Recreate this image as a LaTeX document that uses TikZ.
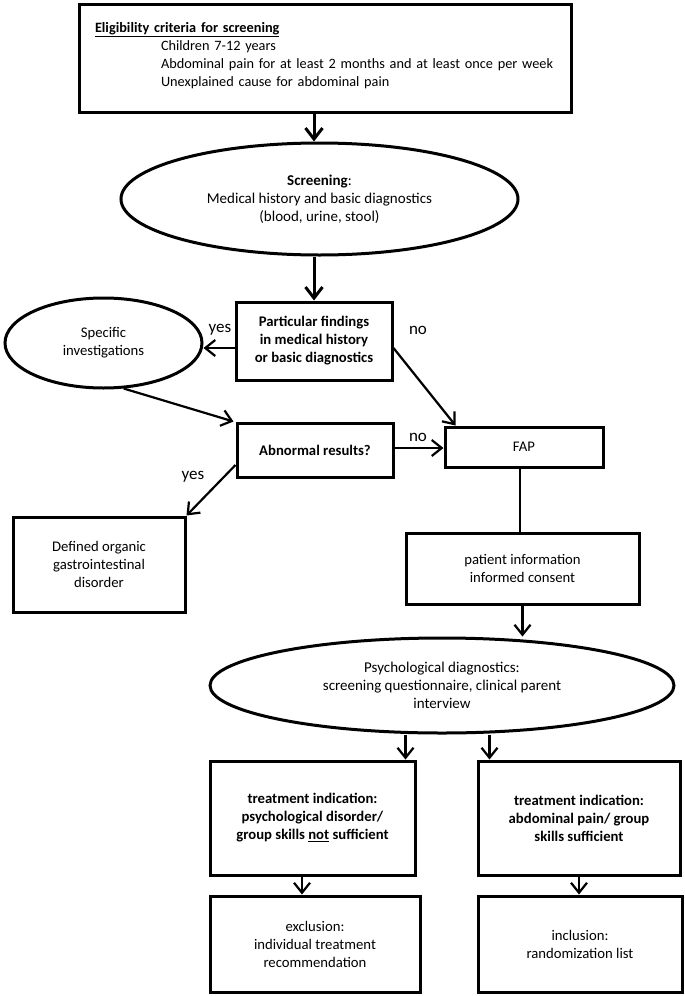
\documentclass[tikz,border=0pt]{standalone}
\usepackage{fontspec}
\setmainfont{Carlito}
\usetikzlibrary{shapes.geometric,arrows.meta,calc}
\begin{document}
\begin{tikzpicture}[x=1pt,y=-1pt,
  every node/.style={font=\fontsize{14.7pt}{18pt}\selectfont},
  box/.style={draw, line width=3pt, rectangle, align=center, inner sep=0pt},
  ell/.style={draw, line width=3pt, ellipse, align=center, inner sep=0pt},
  arr/.style={line width=2.2pt, -{Straight Barb[length=10pt,width=16pt]}},
  tharr/.style={line width=3pt, -{Straight Barb[length=11pt,width=17pt]}},
  plain/.style={line width=2.2pt},
  lbl/.style={font=\fontsize{17pt}{20pt}\selectfont, inner sep=0pt}]
\useasboundingbox (0,0) rectangle (685,996);

\node[box, align=left, text width=490pt, inner xsep=1pt, minimum height=108pt,
      font=\fontsize{14.3pt}{18pt}\selectfont] (elig) at (325,58)
 {\mbox{}\\[-12pt]
  \hspace*{15pt}\textbf{\underline{Eligibility criteria for screening}}\\
  \hspace*{81pt}Children 7-12 years\\
  \hspace*{81pt}Abdominal pain for at least 2 months and at least once per week\\
  \hspace*{81pt}Unexplained cause for abdominal pain};

\node[ell, minimum width=397pt, minimum height=112pt, font=\fontsize{15pt}{18pt}\selectfont] (scr) at (319.5,199)
 {\textbf{Screening}:\\ Medical history and basic diagnostics\\ (blood, urine, stool)};

\node[box, minimum width=156pt, minimum height=78pt] (part) at (314,341)
 {\textbf{Particular findings}\\ \textbf{in medical history}\\ \textbf{or basic diagnostics}};

\node[ell, minimum width=197pt, minimum height=90pt] (spec) at (103.5,343)
 {Specific\\ investigations};

\node[box, minimum width=156pt, minimum height=54pt] (abn) at (315,450)
 {\textbf{Abnormal results?}};

\node[box, minimum width=158pt, minimum height=40pt] (fap) at (524,447) {FAP};

\node[box, minimum width=172pt, minimum height=95pt] (def) at (99,564.5)
 {Defined organic\\ gastrointestinal\\ disorder};

\node[box, minimum width=233pt, minimum height=71pt] (pat) at (522.5,568.5)
 {patient information\\ informed consent};

\node[ell, minimum width=464pt, minimum height=95pt, font=\fontsize{15pt}{18pt}\selectfont] (psy) at (442,685.5)
 {Psychological diagnostics:\\ screening questionnaire, clinical parent\\ interview};

\node[box, minimum width=205pt, minimum height=114pt] (lt) at (312.5,818)
 {\textbf{treatment indication:}\\ \textbf{psychological disorder/}\\ \textbf{group skills \underline{not} sufficient}};

\node[box, minimum width=202pt, minimum height=114pt] (rt) at (579,818)
 {\textbf{treatment indication:}\\ \textbf{abdominal pain/ group}\\ \textbf{skills sufficient}};

\node[box, minimum width=210pt, minimum height=96pt] (exc) at (315,944)
 {exclusion:\\ individual treatment\\ recommendation};

\node[box, minimum width=204pt, minimum height=96pt] (inc) at (580,944)
 {inclusion:\\ randomization list};

% labels
\node[lbl] (yes1) at (220,330) {yes};
\node[lbl] (no1) at (418,330) {no};
\node[lbl] (no2) at (418,437) {no};
\node[lbl] (yes2) at (193,477) {yes};

% connectors
\draw[tharr] (elig.south -| part.north) -- (scr.north -| part.north);
\draw[tharr] (scr.south -| part.north) -- (part.north);
\draw[arr] ([yshift=-7pt]part.west) -- ([yshift=-7pt]part.west -| spec.east);
\draw[arr] (spec.-66) -- ([xshift=-2pt]abn.north west);
\draw[arr] ([yshift=-7pt]part.east) -- ([xshift=12pt]fap.north west);
\draw[arr] ([yshift=2pt]abn.east) -- ([yshift=2pt]abn.east -| fap.west);
\draw[arr] ([yshift=-15pt]abn.west) -- (def.north east);
\draw[plain] ([xshift=-4pt]fap.south) -- ([xshift=-4pt]fap.south |- pat.north);
\draw[arr] (pat.south) -- (pat.south |- psy.north);
\coordinate (l1) at ([xshift=-11pt]lt.north east);
\coordinate (r1) at ([xshift=13pt]rt.north west);
\draw[arr] (l1 |- psy.south) -- (l1);
\draw[arr] (r1 |- psy.south) -- (r1);
\coordinate (l2) at ([xshift=-10.5pt]lt.south);
\draw[arr] (l2) -- (l2 |- exc.north);
\draw[arr] (rt.south) -- (rt.south |- inc.north);
\end{tikzpicture}
\end{document}
